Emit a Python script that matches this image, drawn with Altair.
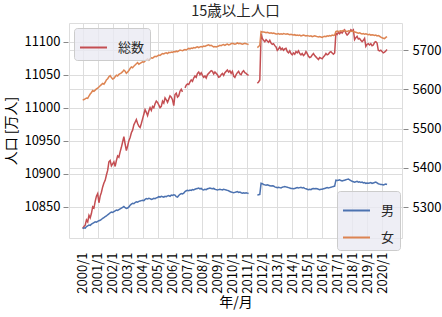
import json
import pandas as pd
import altair as alt

NA = None

# monthly values, 2000/1 .. 2020/5 (one row per year)
total = [
    10817, 10820, 10822, 10830, 10827, 10837, 10833, 10840, 10850, 10848, 10858, 10866,
    10870, 10856, 10866, 10872, 10880, 10886, 10890, 10898, 10905, 10918, 10920, 10912,
    10915, 10918, 10911, 10920, 10927, 10925, 10933, 10940, 10948, 10956, 10945, 10935,
    10942, 10950, 10955, 10962, 10966, 10974, 10978, 10982, 10976, 10972, 10970, 10976,
    10983, 10990, 10997, 10993, 10988, 10995, 11000, 10996, 11002, 11000, 11006, 11010,
    11008, 11004, 11000, 11002, 11010, 11007, 11015, 11012, 11008, 11013, 11018, 11016,
    11012, 11003, 11020, 11022, 11016, 11018, 11025, 11028, 11024, NA, 11030, 11034,
    11036, 11035, 11039, 11042, 11040, 11045, 11048, 11046, 11052, 11054, 11050, 11053,
    11049, 11046, 11048, 11045, 11050, 11052, 11054, 11056, 11055, 11051, 11054, 11052,
    11050, 11046, 11047, 11050, 11052, 11049, 11053, 11055, 11057, 11054, 11056, 11052,
    11055, 11048, 11046, 11050, 11053, 11055, 11051, 11050, 11054, 11056, 11053, 11052,
    11050, 11049, NA, NA, NA, NA, NA, NA, 11037, 11039, 11042, 11112,
    11105, 11102, 11100, 11103, 11101, 11099, 11102, 11098, 11096, 11097, 11094, 11092,
    11087, 11089, 11092, 11088, 11090, 11087, 11089, 11090, 11085, 11083, 11086, 11082,
    11080, 11083, 11081, 11085, 11083, 11086, 11082, 11080, 11082, 11079, 11081, 11085,
    11082, 11078, 11076, 11077, 11080, 11082, 11079, 11077, 11075, 11073, 11076, 11075,
    11074, 11077, 11079, 11082, 11080, 11081, 11084, 11085, 11083, 11081, 11083, 11113,
    11111, 11114, 11112, 11115, 11113, 11116, 11118, 11113, 11110, 11112, 11115, 11118,
    11116, 11118, 11103, 11106, 11108, 11104, 11105, 11102, 11100, 11102, 11105, 11093,
    11096, 11097, 11095, 11097, 11094, 11095, 11099, 11100, 11098, 11087, 11086, 11087,
    11085, 11083, 11084, 11086, 11088,
]

male = [
    5246, 5248, 5247, 5251, 5253, 5255, 5254, 5257, 5259, 5261, 5263, 5262,
    5264, 5266, 5267, 5269, 5272, 5274, 5276, 5278, 5281, 5283, 5286, 5288,
    5287, 5289, 5291, 5293, 5292, 5294, 5296, 5298, 5300, 5302, 5299, 5297,
    5298, 5301, 5305, 5308, 5310, 5309, 5312, 5314, 5313, 5315, 5316, 5317,
    5318, 5317, 5320, 5322, 5321, 5323, 5322, 5320, 5321, 5323, 5322, 5324,
    5325, 5327, 5326, 5328, 5327, 5326, 5328, 5327, 5329, 5330, 5328, 5331,
    5330, 5332, 5331, 5327, 5326, 5330, 5333, 5335, 5334, 5336, 5340, 5342,
    5343, 5342, 5344, 5343, 5345, 5344, 5346, 5347, 5348, 5349, 5347, 5348,
    5345, 5344, 5346, 5345, 5347, 5348, 5349, 5348, 5347, 5348, 5346, 5345,
    5344, 5345, 5346, 5345, 5344, 5346, 5345, 5344, 5343, 5342, 5340, 5339,
    5338, 5337, 5338, 5339, 5340, 5338, 5339, 5337, 5336, 5337, 5336, 5337,
    5336, 5335, NA, NA, NA, NA, NA, NA, 5331, 5332, 5333, 5361,
    5360, 5358, 5357, 5356, 5357, 5356, 5355, 5354, 5355, 5354, 5352, 5351,
    5350, 5351, 5350, 5349, 5351, 5352, 5353, 5352, 5351, 5350, 5349, 5348,
    5348, 5347, 5348, 5349, 5350, 5349, 5350, 5351, 5349, 5350, 5348, 5347,
    5346, 5345, 5346, 5345, 5347, 5348, 5347, 5348, 5347, 5346, 5345, 5346,
    5346, 5347, 5348, 5349, 5350, 5349, 5350, 5351, 5352, 5353, 5354, 5369,
    5368, 5369, 5370, 5368, 5367, 5368, 5369, 5370, 5371, 5372, 5370, 5368,
    5366, 5365, 5364, 5365, 5366, 5364, 5365, 5363, 5364, 5362, 5363, 5361,
    5362, 5361, 5362, 5363, 5361, 5362, 5363, 5364, 5362, 5360, 5359, 5358,
    5358, 5357, 5358, 5359, 5358,
]

female = [
    5573, 5574, 5576, 5578, 5577, 5583, 5588, 5592, 5597, 5595, 5598, 5601,
    5603, 5606, 5609, 5612, 5615, 5613, 5618, 5624, 5627, 5632, 5635, 5630,
    5626, 5628, 5632, 5636, 5634, 5638, 5640, 5642, 5645, 5649, 5646, 5641,
    5644, 5648, 5653, 5657, 5655, 5659, 5662, 5665, 5668, 5664, 5666, 5668,
    5670, 5669, 5672, 5675, 5677, 5674, 5678, 5680, 5679, 5682, 5684, 5683,
    5685, 5687, 5686, 5689, 5691, 5690, 5692, 5693, 5691, 5694, 5693, 5695,
    5694, 5696, 5695, 5697, 5696, 5698, 5700, 5699, 5698, 5700, 5701, 5700,
    5702, 5704, 5703, 5705, 5704, 5706, 5705, 5707, 5708, 5706, 5708, 5709,
    5708, 5710, 5709, 5711, 5712, 5713, 5711, 5712, 5710, 5708, 5709, 5708,
    5709, 5710, 5712, 5711, 5713, 5714, 5712, 5714, 5715, 5713, 5714, 5716,
    5717, 5716, 5715, 5716, 5718, 5716, 5717, 5716, 5715, 5716, 5717, 5716,
    5715, 5714, NA, NA, NA, NA, NA, NA, 5706, 5709, 5712, 5747,
    5746, 5746, 5745, 5744, 5745, 5744, 5743, 5744, 5742, 5743, 5742, 5741,
    5741, 5742, 5740, 5741, 5740, 5742, 5741, 5740, 5741, 5740, 5739, 5740,
    5739, 5738, 5739, 5737, 5738, 5737, 5738, 5736, 5737, 5738, 5737, 5736,
    5737, 5736, 5735, 5736, 5734, 5735, 5736, 5735, 5734, 5733, 5734, 5733,
    5732, 5734, 5735, 5734, 5736, 5735, 5737, 5736, 5738, 5737, 5738, 5747,
    5748, 5747, 5748, 5749, 5748, 5750, 5749, 5748, 5747, 5749, 5748, 5747,
    5748, 5747, 5746, 5745, 5744, 5743, 5744, 5742, 5741, 5742, 5740, 5741,
    5740, 5739, 5740, 5738, 5739, 5738, 5737, 5738, 5736, 5737, 5735, 5733,
    5731, 5730, 5729, 5732, 5734,
]

tick_labels = ["2000/1", "2001/1", "2002/1", "2003/1", "2004/1", "2005/1", "2006/1",
               "2007/1", "2008/1", "2009/1", "2010/1", "2011/1", "2012/1", "2013/1",
               "2014/1", "2015/1", "2016/1", "2017/1", "2018/1", "2019/1", "2020/1"]
tick_pos = [12 * k for k in range(len(tick_labels))]
left_ticks = [10850, 10900, 10950, 11000, 11050, 11100]
right_ticks = [5300, 5400, 5500, 5600, 5700]

idx = list(range(len(total)))
df_t = pd.DataFrame({"i": idx, "v": total, "s": "総数"})
df_mf = pd.concat([
    pd.DataFrame({"i": idx, "v": male, "s": "男", "o": 0}),
    pd.DataFrame({"i": idx, "v": female, "s": "女", "o": 1}),
], ignore_index=True)

TXT = "#262626"
FONT = "Noto Sans CJK JP"

label_expr = json.dumps(tick_labels, ensure_ascii=False) + "[datum.value / 12]"

x_enc = alt.X(
    "i:Q",
    scale=alt.Scale(domain=[-11, 256], nice=False, zero=False),
    axis=alt.Axis(values=tick_pos, labelExpr=label_expr, labelAngle=-90,
                  title="年/月", grid=True, ticks=False, domain=False,
                  labelPadding=14, labelFontSize=13, titleFontSize=14,
                  titlePadding=2, titleFontWeight="normal"),
)

leg_common = dict(
    orient="none", title=None, fillColor="rgba(234,234,242,0.8)",
    strokeColor="#CCCCCC", cornerRadius=3, padding=5, symbolType="stroke",
    symbolSize=729, symbolStrokeWidth=2, labelFontSize=13, labelOffset=10,
    rowPadding=5, labelColor=TXT, labelFont=FONT,
)

line_total = alt.Chart(df_t).mark_line(
    strokeWidth=1.5, invalid="break-paths-show-domains"
).encode(
    x=x_enc,
    y=alt.Y("v:Q",
            scale=alt.Scale(domain=[10802.6, 11128.3], nice=False, zero=False),
            axis=alt.Axis(orient="left", values=left_ticks, title="人口 [万人]",
                          format="d", grid=True, tickSize=5, offset=1, labelPadding=3,
                          labelFontSize=13, titleFontSize=14, titlePadding=5,
                          titleFontWeight="normal", domain=False)),
    color=alt.Color("s:N", scale=alt.Scale(domain=["総数"], range=["#C44E52"]),
                    legend=alt.Legend(legendX=5, legendY=5, **leg_common)),
)

line_mf = alt.Chart(df_mf).mark_line(
    strokeWidth=1.5, invalid="break-paths-show-domains"
).encode(
    x=x_enc,
    y=alt.Y("v:Q",
            scale=alt.Scale(domain=[5221.9, 5768.7], nice=False, zero=False),
            axis=alt.Axis(orient="right", values=right_ticks, title=None,
                          format="d", grid=True, tickSize=5, offset=1, labelPadding=4,
                          labelFontSize=13, domain=False)),
    color=alt.Color("s:N", scale=alt.Scale(domain=["男", "女"], range=["#4C72B0", "#DD8452"]),
                    legend=alt.Legend(legendX=268, legendY=168, **leg_common)),
    order=alt.Order("o:Q"),
)

chart = alt.layer(line_total, line_mf).resolve_scale(
    y="independent", color="independent"
).properties(
    width=333, height=215,
    autosize=alt.AutoSizeParams(type="none"),
    padding={"left": 69, "top": 23, "right": 40, "bottom": 79},
    title=alt.TitleParams("15歳以上人口", fontSize=14.5, fontWeight="normal",
                          anchor="middle", frame="group", offset=4, color=TXT, font=FONT),
).configure_view(
    fill="#EAEAF2", strokeWidth=0
).configure_axis(
    gridColor="white", gridWidth=1.4, labelColor=TXT, titleColor=TXT,
    tickColor=TXT, labelFont=FONT, titleFont=FONT,
).configure(font=FONT, background="white")

chart.save("out.html", embed_options={"renderer": "svg", "actions": False})
